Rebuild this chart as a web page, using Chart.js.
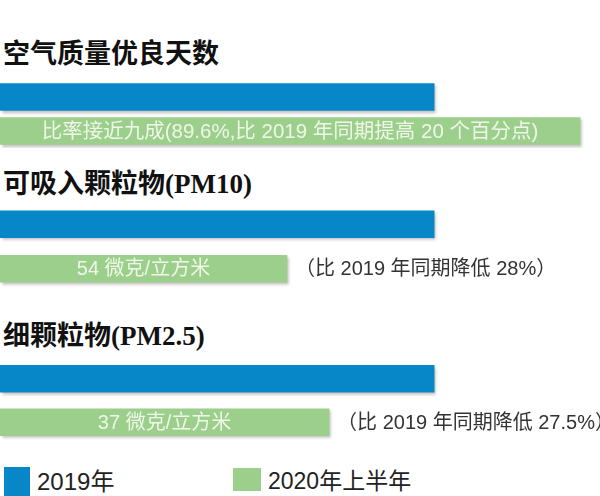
<!DOCTYPE html>
<html>
<head>
<meta charset="utf-8">
<script src="https://cdn.jsdelivr.net/npm/chart.js@4"></script>
<style>
body { margin: 0; background: #fff; width: 600px; height: 496px; position: relative; overflow: hidden; }
.title { position: absolute; left: 3px; margin: 0; font: bold 27px/27px "Liberation Serif", "Noto Sans CJK SC", serif; color: #111; white-space: nowrap; }
canvas { position: absolute; left: 0; }
.key { position: absolute; }
.lab { position: absolute; font-family: "Liberation Sans", "Noto Sans CJK SC", sans-serif; color: #222; white-space: nowrap; line-height: 1; }
</style>
</head>
<body>
<div class="title" id="t0" style="top:41px"></div>
<canvas id="c0" width="600" height="68" style="top:80px"></canvas>
<div class="title" id="t1" style="top:171px"></div>
<canvas id="c1" width="600" height="89" style="top:202px"></canvas>
<div class="title" id="t2" style="top:323px"></div>
<canvas id="c2" width="600" height="87" style="top:357px"></canvas>

<div class="key" style="left:4px;top:467px;width:26px;height:29px;background:#0787c7"></div>
<div class="lab" id="l0" style="left:37px;top:470px;font-size:24px"></div>
<div class="key" style="left:233px;top:468px;width:28px;height:23px;background:#9dcf8c"></div>
<div class="lab" id="l1" style="left:268px;top:470px;font-size:23px"></div>

<script>
// 数据
const metrics = ['空气质量优良天数', '可吸入颗粒物(PM10)', '细颗粒物(PM2.5)'];
const series = ['2019年', '2020年上半年'];
const v2019 = [100, 100, 100];        // 2019年 = 100
const v2020 = [133.6, 66.1, 75.8];    // 按图中条长估算
const barText = ['比率接近九成(89.6%,比 2019 年同期提高 20 个百分点)', '54 微克/立方米', '37 微克/立方米'];
const notes = ['', '（比 2019 年同期降低 28%）', '（比 2019 年同期降低 27.5%）'];

const colors = ['#0787c7', '#9dcf8c'];

document.getElementById('l0').textContent = series[0];
document.getElementById('l1').textContent = series[1];

// 阴影
const shadow = {
  id: 'shadow',
  beforeDatasetsDraw(chart) {
    const c = chart.ctx;
    c.save();
    c.shadowColor = 'rgba(0,0,0,0.28)';
    c.shadowOffsetX = 2;
    c.shadowOffsetY = 2;
    c.shadowBlur = 3;
  },
  afterDatasetsDraw(chart) {
    chart.ctx.restore();
  }
};

// 条内文字和备注
const texts = {
  id: 'texts',
  afterDatasetsDraw(chart, args, opts) {
    const c = chart.ctx;
    const bar = chart.getDatasetMeta(0).data[1];
    c.save();
    c.textBaseline = 'middle';
    c.font = opts.size + 'px "Liberation Sans", "Noto Sans CJK SC", sans-serif';
    c.fillStyle = '#eef7e8';
    c.textAlign = 'center';
    c.fillText(opts.inside, (bar.base + bar.x) / 2, bar.y + 1);
    if (opts.note) {
      c.fillStyle = '#333';
      c.textAlign = 'left';
      c.font = '20px "Liberation Sans", "Noto Sans CJK SC", sans-serif';
      c.fillText(opts.note, bar.x + 8, bar.y + 1);
    }
    c.restore();
  }
};

metrics.forEach(function (m, i) {
  document.getElementById('t' + i).textContent = m;
  new Chart(document.getElementById('c' + i), {
    type: 'bar',
    data: {
      labels: series,
      datasets: [{
        data: [v2019[i], v2020[i]],
        backgroundColor: colors,
        barThickness: 27
      }]
    },
    options: {
      indexAxis: 'y',
      responsive: false,
      animation: false,
      layout: { padding: 0 },
      scales: {
        x: { display: false, min: 0, max: 138.2 },
        y: { display: false }
      },
      plugins: {
        legend: { display: false },
        tooltip: { enabled: false },
        texts: { inside: barText[i], note: notes[i], size: i === 0 ? 20.5 : 20 }
      }
    },
    plugins: [shadow, texts]
  });
});
</script>
</body>
</html>
